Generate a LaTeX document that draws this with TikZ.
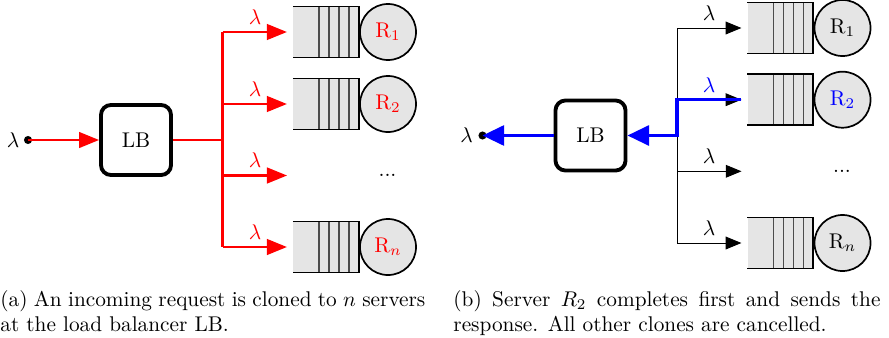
\documentclass[tikz,border=0pt]{standalone}
\usetikzlibrary{arrows.meta,calc}

\tikzset{
  x=0.4695pt, y=-0.4695pt,
  lbbox/.style={draw, line width=1.8pt, rounded corners=4.7pt, minimum size=32.9pt, inner sep=0pt, fill=white},
  qbody/.style={fill=gray!20, minimum width=30.5pt, minimum height=23.5pt, inner sep=0pt},
  qedge/.style={line width=0.8pt},
  qcell/.style={line width=0.6pt, black!70},
  srv/.style={circle, draw, line width=0.8pt, fill=gray!20, minimum size=26.3pt, inner sep=0pt},
  srcdot/.style={circle, fill=black, minimum size=3.8pt, inner sep=0pt},
  redflow/.style={draw=red, line width=0.95pt, -{Triangle[length=9.4pt,width=7.4pt]}},
  redline/.style={draw=red, line width=0.95pt},
  thinflow/.style={black, line width=0.45pt, -{Triangle[length=7.4pt,width=6pt]}},
  thinline/.style={black, line width=0.45pt},
  blueflow/.style={blue, line width=1.5pt, -{Triangle[length=10.2pt,width=9.4pt]}},
  rate/.style={inner sep=0pt},
  captext/.style={inner sep=0pt, anchor=base west},
}

% one queue with its server; #1 = name suffix, #2 = y, #3 = server label
\newcommand{\queueserver}[3]{%
  \node[qbody] (q#1) at (325.8,#2) {};
  \draw[qedge] (q#1.north west) -- (q#1.north east) -- (q#1.south east) -- (q#1.south west);
  \foreach \dx in {26,36,46,56}
    \draw[qcell] ($(q#1.north west)+(\dx,0.9)$) -- ($(q#1.south west)+(\dx,-0.9)$);
  \node[srv] (s#1) at (388,#2) {#3};
}

\begin{document}
\begin{tikzpicture}
\useasboundingbox (0,0) rectangle (889,337);

% ---------- (a) cloning at the load balancer ----------
\begin{scope}
  \node[srcdot] (srcA) at (28,140) {};
  \node[rate] (inA) at (13,140) {$\lambda$};
  \node[lbbox] (lbA) at (136,140) {LB};
  \coordinate (forkA) at (222.5,140);

  \queueserver{A1}{32}{\textcolor{red}{R$_1$}}
  \queueserver{A2}{104}{\textcolor{red}{R$_2$}}
  \queueserver{An}{247}{\textcolor{red}{R$_n$}}
  \node[rate] (dotsA) at (387.5,175.5) {...};
  \coordinate (tA3) at (287,175.5);

  \draw[redflow] (srcA.center) -- (lbA.west);
  \draw[redline] (lbA.east) -- (forkA);
  \draw[redline] (forkA |- qA1.west) -- (forkA |- qAn.west);
  \draw[redflow] (forkA |- qA1.west) -- ($(qA1.west)+(-6,0)$);
  \draw[redflow] (forkA |- qA2.west) -- ($(qA2.west)+(-6,0)$);
  \draw[redflow] (forkA |- tA3) -- (tA3);
  \draw[redflow] (forkA |- qAn.west) -- ($(qAn.west)+(-6,0)$);

  \node[rate, red] (lamA1) at (255,17) {$\lambda$};
  \node[rate, red] (lamA2) at (255,89) {$\lambda$};
  \node[rate, red] (lamA3) at (255,160.5) {$\lambda$};
  \node[rate, red] (lamAn) at (255,232) {$\lambda$};
\end{scope}

% ---------- (b) the first response returns ----------
\begin{scope}[shift={(454.5,-4)}]
  \node[srcdot] (srcB) at (28,139.5) {};
  \node[rate] (outB) at (12,139.5) {$\lambda$};
  \node[lbbox] (lbB) at (136,139.5) {LB};
  \coordinate (forkB) at (222.5,139.5);

  \queueserver{B1}{32}{R$_1$}
  \queueserver{B2}{103.7}{\textcolor{blue}{R$_2$}}
  \queueserver{Bn}{247}{R$_n$}
  \node[rate] (dotsB) at (387.5,175.3) {...};
  \coordinate (tB3) at (287,175.3);

  \draw[thinline] (forkB |- qB1.west) -- (forkB |- qBn.west);
  \draw[thinflow] (forkB |- qB1.west) -- ($(qB1.west)+(-6,0)$);
  \draw[thinflow] (forkB |- qB2.west) -- ($(qB2.west)+(-6,0)$);
  \draw[thinflow] (forkB |- tB3) -- (tB3);
  \draw[thinflow] (forkB |- qBn.west) -- ($(qBn.west)+(-6,0)$);

  \draw[blueflow] ($(qB2.west)+(-6,0)$) -- (forkB |- qB2.west) -- (forkB) -- (lbB.east);
  \draw[blueflow] (lbB.west) -- (srcB.center);

  \node[rate] (lamB1) at (254.5,17) {$\lambda$};
  \node[rate, blue] (lamB2) at (254.5,88.7) {$\lambda$};
  \node[rate] (lamB3) at (254.5,160.3) {$\lambda$};
  \node[rate] (lamBn) at (254.5,232) {$\lambda$};
\end{scope}

% ---------- captions ----------
\node[captext] (capA1) at (0,306) {\makebox[199.5pt][s]{(a) An incoming request is cloned to $n$ servers}};
\node[captext] (capA2) at (0,331) {at the load balancer LB.};
\node[captext] (capB1) at (453,306) {\makebox[200.5pt][s]{(b) Server $R_2$ completes first and sends the}};
\node[captext] (capB2) at (453,331) {response. All other clones are cancelled.};
\end{tikzpicture}
\end{document}
